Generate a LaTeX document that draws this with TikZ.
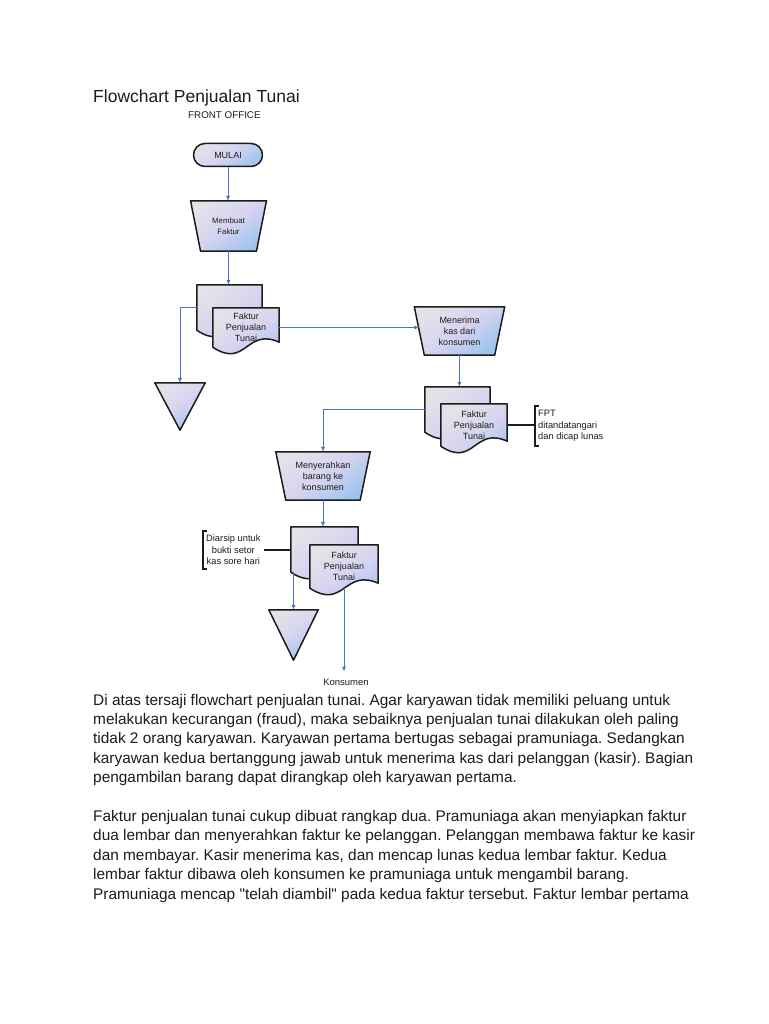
\documentclass[tikz,border=0pt]{standalone}
\usepackage{fontspec}
\setmainfont{Liberation Sans}[Ligatures=TeXOff]
\usetikzlibrary{arrows.meta,positioning,calc}
\frenchspacing
\definecolor{ink}{HTML}{1C1C1C}
\definecolor{flowC}{HTML}{4A72C0}
\definecolor{shTop}{HTML}{E2E2E8}
\definecolor{shMid}{HTML}{D6D3F0}
\definecolor{shBot}{HTML}{9EC4EE}
\pgfdeclarelayer{paper}
\pgfdeclarelayer{bg}
\pgfsetlayers{paper,bg,main}
\tikzset{flow/.style={-{Latex[length=1.7mm,width=1.4mm]},draw=flowC,line width=0.8pt},
  link/.style={draw=ink,line width=1.2pt},
  brk/.style={draw=ink,line width=1.7pt},
  outl/.style={draw=ink,line width=1.5pt,line join=round,shading=axis,top color=shTop,
    bottom color=shBot,middle color=shMid,shading angle=35},
  term/.style={outl,rounded corners=11.5pt,minimum width=69pt,minimum height=23pt,
    inner sep=0pt,font=\fontsize{9}{11}\selectfont,text=ink},
  box/.style={inner sep=0pt,align=center,text=ink,font=\fontsize{9}{11}\selectfont},
  annot/.style={inner xsep=3pt,inner ysep=4pt,text=ink,font=\fontsize{9.3}{11.5}\selectfont},
  para/.style={anchor=base west,inner sep=0pt,text=ink,font=\fontsize{15.4}{18}\selectfont}}
\newcommand{\docline}[1]{\begin{pgfonlayer}{bg}\path[outl] (#1.north west) -- (#1.north east)
  -- ([yshift=5pt]#1.south east) .. controls ([yshift=20pt]#1.south) and ([yshift=-22pt]#1.south)
  .. (#1.south west) -- cycle;\end{pgfonlayer}}
\newcommand{\manop}[1]{\begin{pgfonlayer}{bg}\path[outl] ([xshift=-5pt]#1.north west)
  -- ([xshift=5pt]#1.north east) -- ([xshift=-5pt]#1.south east) -- ([xshift=5pt]#1.south west)
  -- cycle;\end{pgfonlayer}}
\newcommand{\offl}[1]{\begin{pgfonlayer}{bg}\path[outl] (#1.north west) -- (#1.north east)
  -- (#1.south) -- cycle;\end{pgfonlayer}}
\newcommand{\brkt}[1]{\draw[brk] ([xshift=4pt]#1.north west) -- (#1.north west) -- (#1.south west)
  -- ([xshift=4pt]#1.south west);}
\begin{document}
\begin{tikzpicture}[x=1pt,y=-1pt]
\begin{pgfonlayer}{paper}
\path[fill=white] (0,0) rectangle (768,1024);
\end{pgfonlayer}
\useasboundingbox (0,0) rectangle (768,1024);
\node[anchor=base west,inner sep=0pt,text=ink,font=\fontsize{17.5}{20}\selectfont] (title) at (93,103) {Flowchart Penjualan Tunai};
\node[anchor=base west,inner sep=0pt,text=ink,font=\fontsize{9.8}{12}\selectfont] (front) at (188,119) {FRONT OFFICE};
\node[term] (mulai) at (228,155) {MULAI};
\node[box,minimum width=65.5pt,minimum height=50pt,font=\fontsize{7.8}{10.5}\selectfont] (mf) at (228.5,226) {Membuat\\Faktur};
\manop{mf}
\node[box,minimum width=65pt,minimum height=45pt] (d1b) at (229.5,307.5) {};
\docline{d1b}
\node[box,minimum width=66pt,minimum height=39pt] (d1f) at (246,327.5) {Faktur\\Penjualan\\Tunai};
\docline{d1f}
\node[box,minimum width=50pt,minimum height=47pt] (t1) at (180,406.5) {};
\offl{t1}
\node[box,minimum width=80pt,minimum height=48pt] (mk) at (459.5,331) {Menerima\\kas dari\\konsumen};
\manop{mk}
\node[box,minimum width=65pt,minimum height=45pt] (d2b) at (457.5,409.5) {};
\docline{d2b}
\node[box,minimum width=66pt,minimum height=42pt] (d2f) at (474,425) {Faktur\\Penjualan\\Tunai};
\docline{d2f}
\node[annot,align=left,anchor=west] (a1) at (535,426) {FPT\\ditandatangari\\dan dicap lunas};
\brkt{a1}
\node[box,minimum width=84pt,minimum height=48pt] (ms) at (323,476) {Menyerahkan\\barang ke\\konsumen};
\manop{ms}
\node[box,minimum width=67pt,minimum height=45pt] (d3b) at (324.5,549.5) {};
\docline{d3b}
\node[box,minimum width=68pt,minimum height=43pt] (d3f) at (344,566.5) {Faktur\\Penjualan\\Tunai};
\docline{d3f}
\node[annot,align=center,anchor=west] (a2) at (203,550) {Diarsip untuk\\bukti setor\\kas sore hari};
\brkt{a2}
\node[box,minimum width=49pt,minimum height=50pt] (t2) at (293.5,635) {};
\offl{t2}
\node[inner sep=2pt,text=ink,font=\fontsize{9.5}{11}\selectfont] (kons) at (346,682) {Konsumen};
\draw[flow] (mulai.south) -- (mulai.south |- mf.north);
\draw[flow] (mf.south) -- (mf.south |- d1b.north);
\draw[flow] (d1b.west) -| (t1.north);
\draw[flow] (d1f.east) -- (d1f.east -| mk.west);
\draw[flow] (mk.south) -- (mk.south |- d2b.north);
\draw[flow] (d2b.west) -| (ms.north);
\draw[link] (d2f.east) -- (d2f.east -| a1.west);
\draw[flow] (ms.south) -- (ms.south |- d3b.north);
\draw[link] (a2.east) -- (a2.east -| d3b.west);
\draw[flow] (t2.north |- d3b.south) -- (t2.north);
\draw[flow,shorten >=5pt] (d3f.south) -- (d3f.south |- kons.north);
\foreach \ln [count=\i] in {{Di atas tersaji flowchart penjualan tunai. Agar karyawan tidak memiliki peluang untuk},
  {melakukan kecurangan (fraud), maka sebaiknya penjualan tunai dilakukan oleh paling},
  {tidak 2 orang karyawan. Karyawan pertama bertugas sebagai pramuniaga. Sedangkan},
  {karyawan kedua bertanggung jawab untuk menerima kas dari pelanggan (kasir). Bagian},
  {pengambilan barang dapat dirangkap oleh karyawan pertama.}}
  \node[para] (pa\i) at (93,{705+(\i-1)*19.45}) {\ln};
\foreach \ln [count=\i] in {{Faktur penjualan tunai cukup dibuat rangkap dua. Pramuniaga akan menyiapkan faktur},
  {dua lembar dan menyerahkan faktur ke pelanggan. Pelanggan membawa faktur ke kasir},
  {dan membayar. Kasir menerima kas, dan mencap lunas kedua lembar faktur. Kedua},
  {lembar faktur dibawa oleh konsumen ke pramuniaga untuk mengambil barang.},
  {Pramuniaga mencap "telah diambil" pada kedua faktur tersebut. Faktur lembar pertama}}
  \node[para] (pb\i) at (93,{821.4+(\i-1)*19.45}) {\ln};
\end{tikzpicture}
\end{document}
